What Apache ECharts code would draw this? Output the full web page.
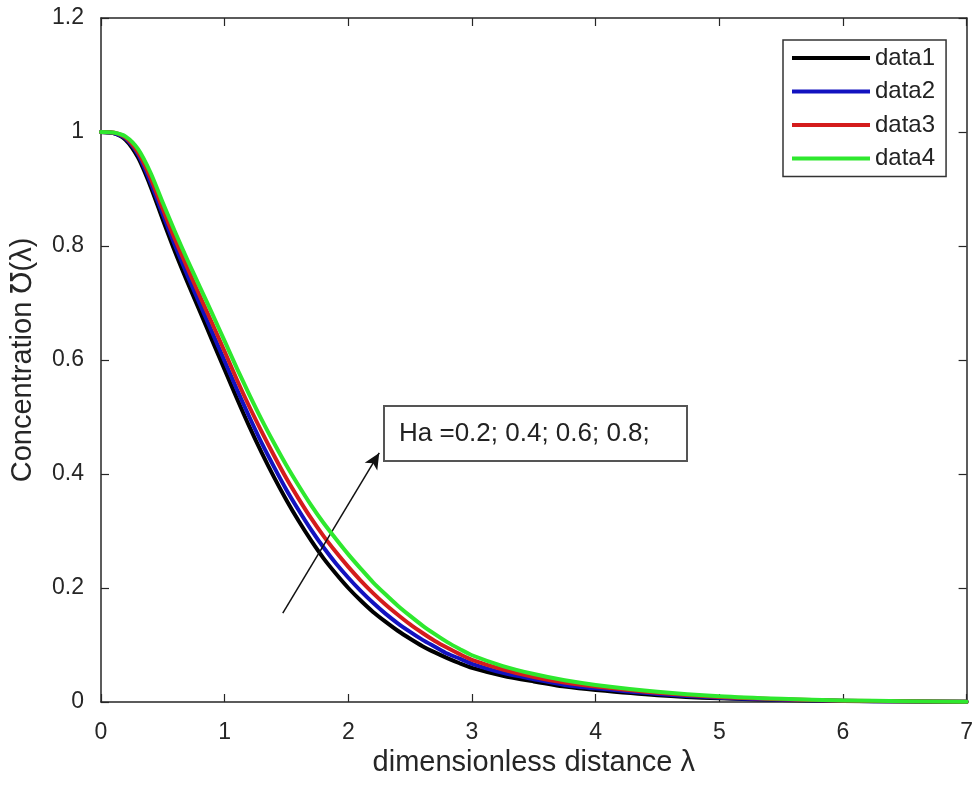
<!DOCTYPE html>
<html>
<head>
<meta charset="utf-8">
<script src="https://cdn.jsdelivr.net/npm/echarts@6/dist/echarts.min.js"></script>
<style>
html,body{margin:0;padding:0;background:#fff;}
#chart{width:976px;height:791px;}
</style>
</head>
<body>
<div id="chart"></div>
<script>
const lambda = [0,0.1,0.2,0.3,0.4,0.5,0.6,0.7,0.8,0.9,1.0,1.1,1.2,1.3,1.4,1.5,1.6,1.7,1.8,1.9,2.0,2.1,2.2,2.3,2.4,2.5,2.6,2.7,2.8,2.9,3.0,3.25,3.5,3.75,4.0,4.5,5.0,5.5,6.0,6.5,7.0];
const data1 = [1.000,0.998,0.986,0.955,0.905,0.846,0.789,0.736,0.685,0.634,0.583,0.532,0.483,0.437,0.394,0.354,0.317,0.283,0.252,0.225,0.200,0.178,0.158,0.141,0.125,0.111,0.098,0.087,0.077,0.068,0.060,0.046,0.036,0.027,0.021,0.012,0.0065,0.0035,0.0018,0.0009,0.0004];
const data2 = [1.000,0.998,0.988,0.960,0.912,0.855,0.800,0.748,0.698,0.648,0.598,0.548,0.500,0.454,0.412,0.372,0.336,0.302,0.271,0.243,0.218,0.195,0.174,0.155,0.138,0.123,0.109,0.097,0.085,0.076,0.067,0.051,0.040,0.030,0.024,0.014,0.0076,0.0041,0.0021,0.0011,0.0005];
const data3 = [1.000,0.999,0.990,0.964,0.920,0.865,0.811,0.761,0.712,0.664,0.615,0.565,0.518,0.474,0.432,0.392,0.356,0.322,0.291,0.263,0.237,0.213,0.191,0.171,0.153,0.136,0.121,0.107,0.095,0.084,0.074,0.057,0.044,0.034,0.027,0.016,0.0087,0.0048,0.0024,0.0012,0.0005];
const data4 = [1.000,0.999,0.992,0.970,0.929,0.876,0.824,0.775,0.728,0.681,0.633,0.585,0.539,0.495,0.454,0.415,0.379,0.345,0.314,0.286,0.259,0.234,0.210,0.189,0.169,0.151,0.134,0.119,0.105,0.093,0.082,0.063,0.049,0.038,0.030,0.018,0.010,0.0055,0.0028,0.0014,0.0006];
const seriesNames = ['data1','data2','data3','data4'];
const seriesColors = ['#000000','#1212c0','#d41c1c','#2ee82e'];
const xTicks = [0,1,2,3,4,5,6,7];
const yTicks = [0,0.2,0.4,0.6,0.8,1,1.2];
const annotationText = 'Ha =0.2; 0.4; 0.6; 0.8;';
const arrowFrom = [1.47, 0.156];
const arrowTo = [2.25, 0.437];

const allData = [data1,data2,data3,data4];
const FONT = '"Liberation Sans", Arial, "DejaVu Sans", sans-serif';
const AX = '#262626';

const chart = echarts.init(document.getElementById('chart'), null, {renderer:'canvas'});
const series = allData.map((arr, i) => ({
  name: seriesNames[i],
  type: 'line',
  xAxisIndex: 0, yAxisIndex: 0,
  data: lambda.map((x, k) => [x, arr[k]]),
  showSymbol: false,
  symbol: 'none',
  smooth: 0.25,
  lineStyle: {width: 4, color: seriesColors[i], join: 'round', cap: 'round'},
  itemStyle: {color: seriesColors[i]},
  z: 2 + i
}));
series[0].markLine = {
  silent: true,
  symbol: ['none', 'arrow'],
  symbolSize: [11, 16],
  label: {show: false},
  lineStyle: {color: '#111', width: 1.5, type: 'solid'},
  data: [[{coord: arrowFrom}, {coord: arrowTo}]]
};

const axisCommon = {
  type: 'value',
  axisLine: {show: true, onZero: false, lineStyle: {color: AX, width: 1.5}},
  axisTick: {show: true, inside: true, length: 8, lineStyle: {color: AX, width: 1.2}},
  splitLine: {show: false}
};

chart.setOption({
  backgroundColor: '#ffffff',
  animation: false,
  grid: {left: 100, right: 9, top: 18, bottom: 89},
  legend: {
    orient: 'vertical',
    left: 783, top: 40,
    data: seriesNames,
    icon: 'rect',
    itemWidth: 78, itemHeight: 4,
    itemGap: 9.5,
    padding: [6, 11, 6, 9],
    borderColor: '#333', borderWidth: 1.5,
    backgroundColor: '#fff',
    textStyle: {fontFamily: FONT, fontSize: 24, color: '#222', lineHeight: 24}
  },
  xAxis: [
    Object.assign({}, axisCommon, {
      min: 0, max: 7, interval: 1, position: 'bottom',
      name: 'dimensionless distance λ', nameLocation: 'middle', nameGap: 35,
      nameTextStyle: {fontFamily: FONT, fontSize: 29, color: AX},
      axisLabel: {fontFamily: FONT, fontSize: 23, color: AX, margin: 19,
        formatter: v => xTicks.includes(v) ? String(v) : ''}
    }),
    Object.assign({}, axisCommon, {
      min: 0, max: 7, interval: 1, position: 'top', axisLabel: {show: false}
    })
  ],
  yAxis: [
    Object.assign({}, axisCommon, {
      min: 0, max: 1.2, interval: 0.2, position: 'left',
      name: 'Concentration ℧(λ)', nameLocation: 'middle', nameGap: 64, nameRotate: 90,
      nameTextStyle: {fontFamily: FONT, fontSize: 29, color: AX},
      axisLabel: {fontFamily: FONT, fontSize: 23, color: AX, margin: 17,
        formatter: v => { const t = yTicks.find(y => Math.abs(y - v) < 1e-9); return t === undefined ? '' : String(t); }}
    }),
    Object.assign({}, axisCommon, {
      min: 0, max: 1.2, interval: 0.2, position: 'right', axisLabel: {show: false}
    })
  ],
  series: series,
  graphic: [{
    type: 'group', left: 383, top: 405, z: 100,
    children: [
      {type: 'rect', shape: {x: 0, y: 0, width: 303, height: 55},
       style: {fill: '#fff', stroke: '#555', lineWidth: 2}},
      {type: 'text', x: 15, y: 28,
       style: {text: annotationText, font: '26px ' + FONT, fill: '#222', verticalAlign: 'middle'}}
    ]
  }]
});
</script>
</body>
</html>
